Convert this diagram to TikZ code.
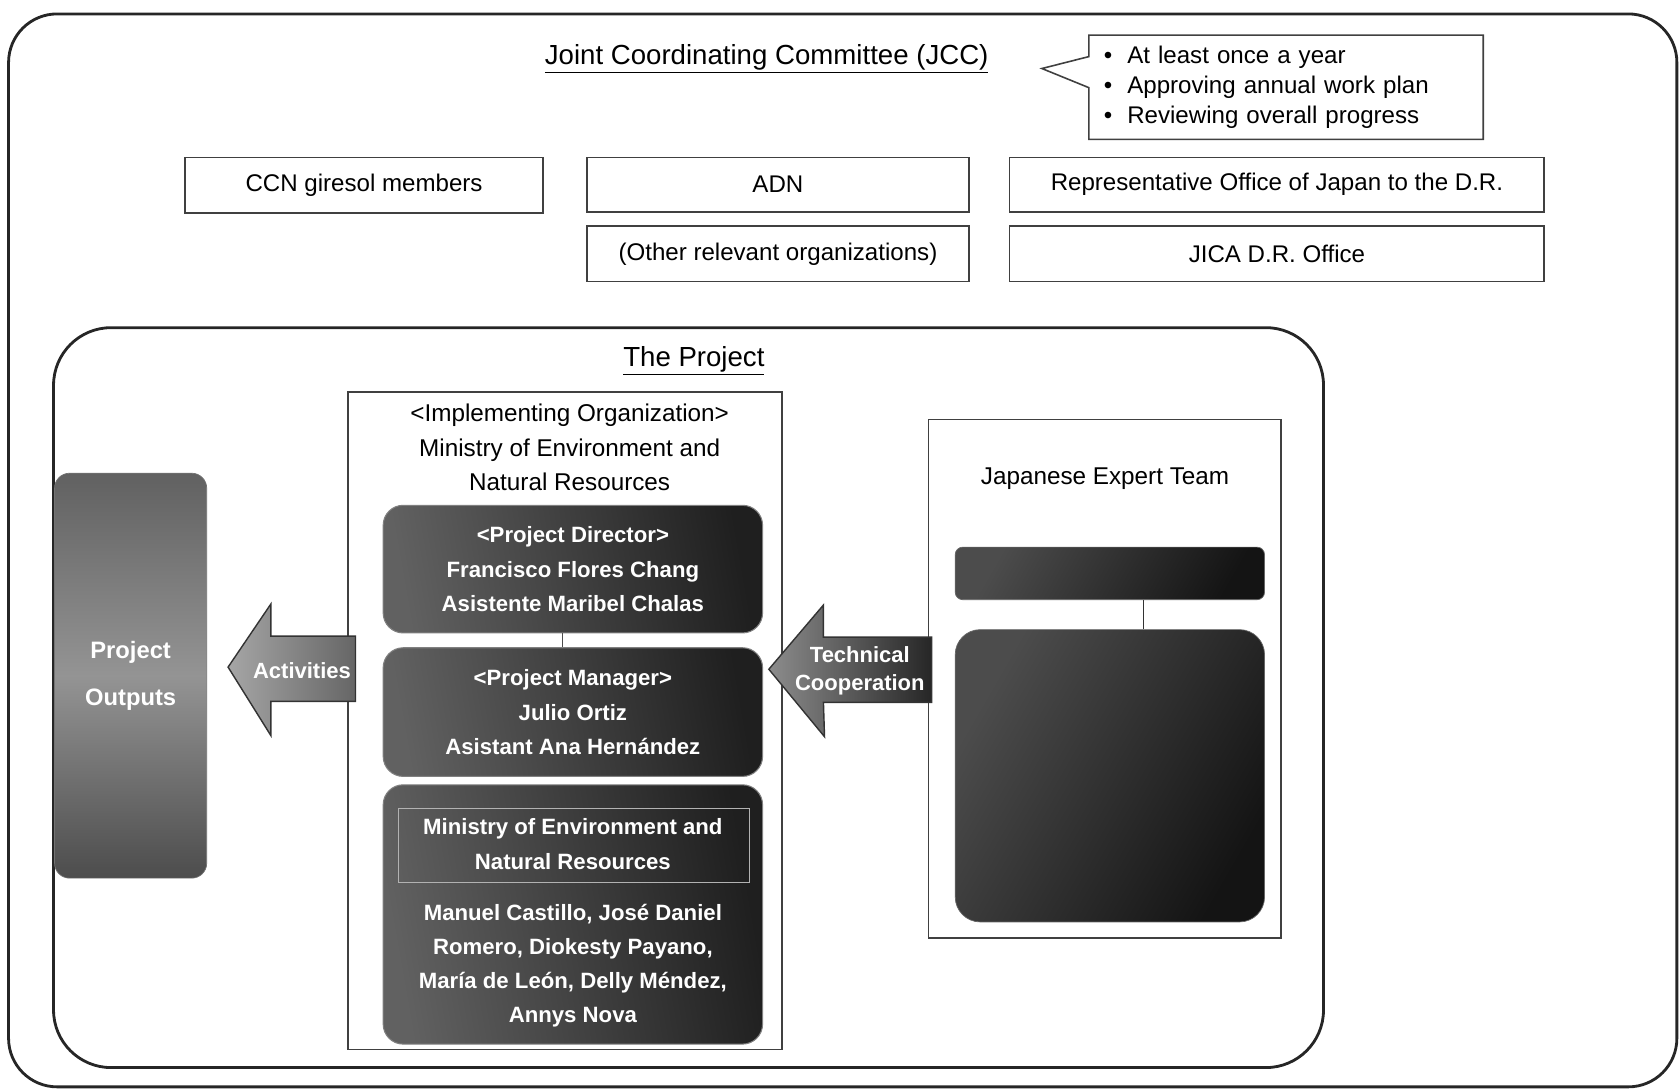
\documentclass[tikz,border=0pt]{standalone}
\usepackage{fontspec}
\setmainfont{Liberation Sans}
\usetikzlibrary{shapes.callouts}

\begin{document}
\begin{tikzpicture}[x=0.0214cm, y=-0.0214cm,
    frame/.style={line width=1.6pt, black!85},
    orgbox/.style={draw=black!75, line width=0.9pt, fill=white,
        font=\fontsize{13.7}{17.3}\selectfont, inner sep=0pt},
    plainbox/.style={draw=black!75, line width=0.9pt},
    title/.style={font=\fontsize{15.7}{18}\selectfont},
    txt/.style={font=\fontsize{13.8}{19.7}\selectfont, align=center},
    darkbox/.style={rounded corners=0.4cm, draw=black!50, line width=0.6pt,
        left color=black!62, right color=black!88, shading angle=100,
        minimum width=7.58cm},
    jetbox/.style={draw=black!60, left color=black!70, right color=black!92,
        shading angle=60, minimum width=6.18cm},
    wtxt/.style={text=white, align=center,
        font=\bfseries\fontsize{12.6}{19.7}\selectfont},
    blockarrow/.style={draw=black!80, line width=0.8pt}]

  \useasboundingbox (0,0) rectangle (1568,1018);

  % ---- the two frames ----
  \draw[frame, rounded corners=0.97cm] (8,13) rectangle (1566,1015);
  \draw[frame, rounded corners=1.15cm] (50,306) rectangle (1236,997);

  % ---- JCC and its members ----
  \node[title] (jcc) at (716,55) {\underline{Joint Coordinating Committee (JCC)}};

  \node[rectangle callout, draw=black!75, line width=0.9pt, fill=white,
        callout absolute pointer={(973,64)}, callout pointer width=0.62cm,
        minimum width=7.88cm, minimum height=2.08cm, inner xsep=0.3cm,
        text width=7.28cm, align=left,
        font=\fontsize{13.7}{17.3}\selectfont] (jccnote) at (1201,81.5)
      {\textbullet\hspace{0.3cm}At least once a year\\
       \textbullet\hspace{0.3cm}Approving annual work plan\\
       \textbullet\hspace{0.3cm}Reviewing overall progress};

  \node[orgbox, minimum width=7.15cm, minimum height=1.11cm] (ccn)
      at (340,173) {CCN giresol members};
  \node[orgbox, minimum width=7.64cm, minimum height=1.09cm] (adn)
      at (726.5,172.5) {ADN};
  \node[orgbox, minimum width=7.64cm, minimum height=1.11cm] (others)
      at (726.5,237) {(Other relevant organizations)};
  \node[orgbox, minimum width=10.68cm, minimum height=1.09cm] (embassy)
      at (1192.5,172.5) {Representative Office of Japan to the D.R.};
  \node[orgbox, minimum width=10.68cm, minimum height=1.11cm] (jica)
      at (1192.5,237) {JICA D.R. Office};

  % ---- the project ----
  \node[title] (project) at (648,337) {\underline{The Project}};

  % ---- implementing organization ----
  \node[plainbox, minimum width=8.67cm, minimum height=13.14cm] (impl)
      at (527.5,673) {};
  \node[txt] (impltitle) at (532,418)
      {<Implementing Organization>\\Ministry of Environment and\\Natural Resources};

  \node[darkbox, wtxt, minimum height=2.55cm] (director) at (535,531.5)
      {<Project Director>\\Francisco Flores Chang\\Asistente Maribel Chalas};
  \node[darkbox, wtxt, minimum height=2.57cm] (manager) at (535,665)
      {<Project Manager>\\Julio Ortiz\\Asistant Ana Hernández};
  \draw[black!70, line width=0.8pt] ([xshift=-0.21cm]director.south)
      -- ([xshift=-0.21cm]manager.north);

  \node[darkbox, minimum height=5.18cm] (staff) at (535,854) {};
  \draw[black!30, line width=0.6pt] (372,755) rectangle (700,824);
  \node[wtxt] (stafforg) at (535,788)
      {Ministry of Environment and\\Natural Resources};
  \node[wtxt, font=\bfseries\fontsize{12.6}{19.3}\selectfont] (staffnames)
      at (535,901.5)
      {Manuel Castillo, José Daniel\\Romero, Diokesty Payano,\\
       María de León, Delly Méndez,\\Annys Nova};

  % ---- project outputs and activities ----
  \node[rounded corners=0.3cm, draw=black!55, top color=black!62,
        bottom color=black!70, middle color=black!42, minimum width=3.04cm,
        minimum height=8.09cm, wtxt,
        font=\bfseries\fontsize{13.5}{26.7}\selectfont] (outputs)
      at (122,631) {Project\\Outputs};

  \draw[blockarrow, left color=black!35, right color=black!60]
      (213,623) -- (253,564) -- (253,594) -- (332,594) -- (332,655)
      -- (253,655) -- (253,687) -- cycle;
  \node[wtxt, font=\bfseries\fontsize{12.5}{15}\selectfont] (activities)
      at (282,626) {Activities};

  % ---- Japanese side ----
  \node[plainbox, minimum width=7.04cm, minimum height=10.36cm] (jet)
      at (1031.5,634) {};
  \node[txt] (jettitle) at (1032,447) {Japanese Expert Team};
  \node[jetbox, rounded corners=0.15cm, minimum height=1.05cm] (jettop)
      at (1036.5,535.5) {};
  \node[jetbox, rounded corners=0.5cm, minimum height=5.84cm] (jetmembers)
      at (1036.5,724.5) {};
  \draw[black!80, line width=0.8pt] ([xshift=0.67cm]jettop.south)
      -- ([xshift=0.67cm]jetmembers.north);

  \draw[blockarrow, left color=black!45, right color=black!85]
      (718,625) -- (769,565) -- (769,595) -- (870,595) -- (870,656)
      -- (769,656) -- (770,688) -- cycle;
  \node[wtxt, font=\bfseries\fontsize{12.5}{16.4}\selectfont] (techcoop)
      at (803,626.5) {Technical\\Cooperation};

\end{tikzpicture}
\end{document}
